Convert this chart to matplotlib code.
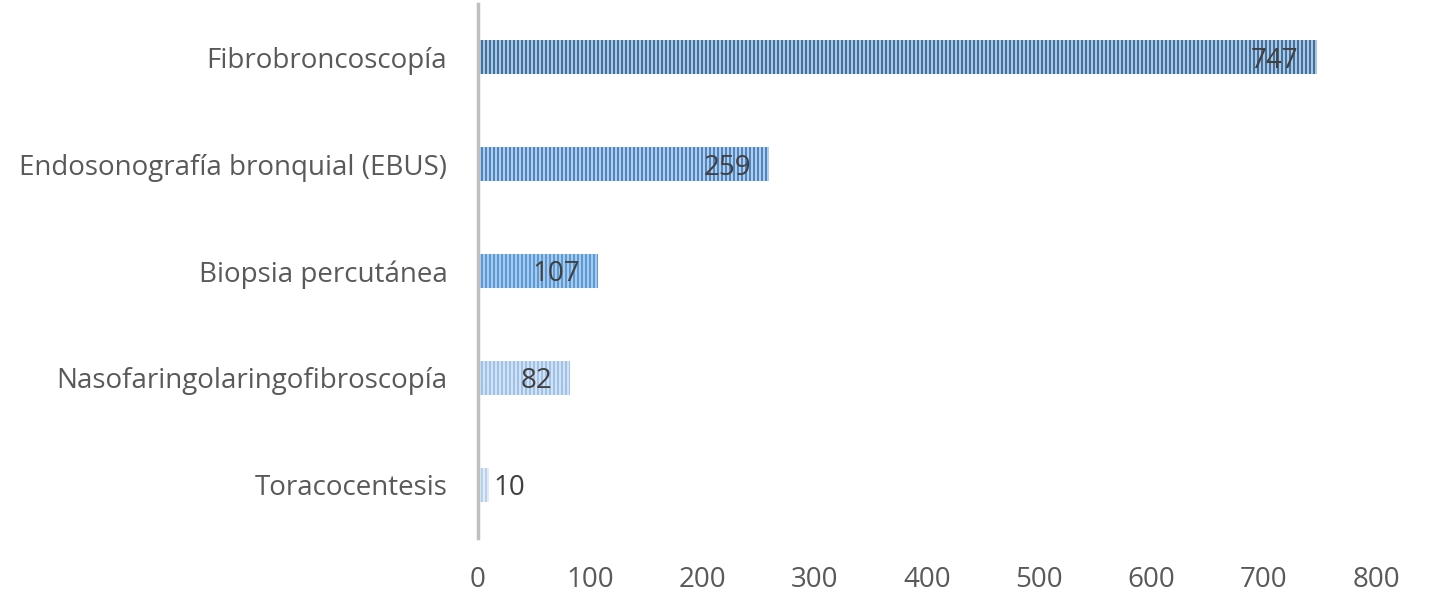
import matplotlib.pyplot as plt
import numpy as np

DPI = 96
plt.rcParams['font.family'] = ['Open Sans', 'DejaVu Sans']
plt.rcParams['hatch.linewidth'] = 1.5

categories = ['Toracocentesis', 'Nasofaringolaringofibroscopía', 'Biopsia percutánea',
              'Endosonografía bronquial (EBUS)', 'Fibrobroncoscopía']
values = [10, 82, 107, 259, 747]
face_colors = ['#e2ecf7', '#d2e2f4', '#a9caed', '#b3cdea', '#aec8e4']
stripe_colors = ['#b9d0ec', '#9fc2e6', '#5b9bd5', '#4e86c2', '#41719f']

fig = plt.figure(figsize=(1429 / DPI, 597 / DPI), dpi=DPI)
ax = fig.add_axes([0.3345, 0.0988, 0.6285, 0.8945])

y = np.arange(len(categories))
for i in range(len(categories)):
    ax.barh(y[i], values[i], height=0.32, color=face_colors[i],
            edgecolor=stripe_colors[i], hatch='||||', linewidth=0)

fs = 20.8
for i, v in enumerate(values):
    if v > 40:
        ax.annotate(str(v), (v, y[i]), xytext=(-13.5, -2.5), textcoords='offset points',
                    ha='right', va='center', fontsize=fs, color='#404040')
    else:
        ax.annotate(str(v), (v, y[i]), xytext=(3, -2.5), textcoords='offset points',
                    ha='left', va='center', fontsize=fs, color='#404040')

ax.set_xlim(0, 800)
ax.set_ylim(-0.5, 4.5)
ax.set_xticks(range(0, 801, 100))
ax.set_yticks(y)
ax.set_yticklabels(categories)
ax.tick_params(axis='both', length=0, labelsize=fs, labelcolor='#595959')
ax.tick_params(axis='x', pad=21)
ax.tick_params(axis='y', pad=23)
for s in ['top', 'right', 'bottom']:
    ax.spines[s].set_visible(False)
ax.spines['left'].set_color('#bfbfbf')
ax.spines['left'].set_linewidth(2.6)

fig.savefig('out.png', dpi=DPI)
